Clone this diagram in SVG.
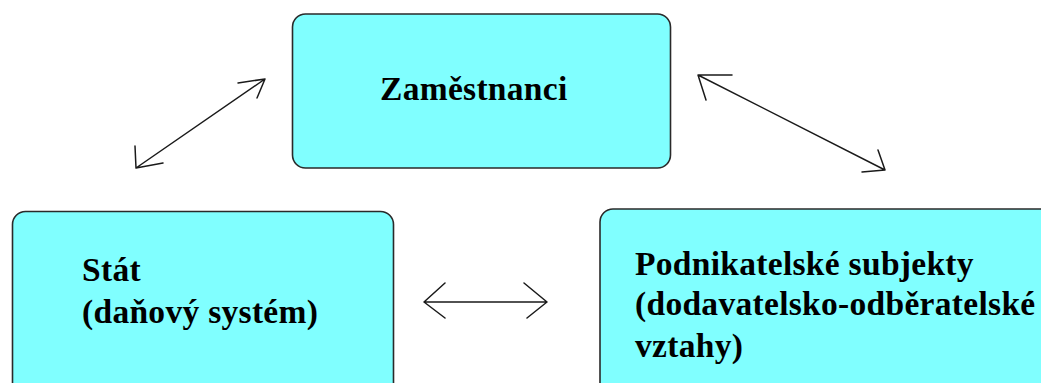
<svg xmlns="http://www.w3.org/2000/svg" width="1041" height="383" viewBox="0 0 1041 383">
  <style>
    .box { fill: #80ffff; stroke: #2a2a2a; stroke-width: 1.6; }
    .label { font-family: "Liberation Serif", "Times New Roman", serif; font-weight: bold; font-size: 33.5px; letter-spacing: 0.3px; fill: #000; }
    .link { fill: none; stroke: #1a1a1a; stroke-width: 1.5; stroke-linecap: round; stroke-linejoin: round; }
  </style>
  <rect width="1041" height="383" fill="#fff"/>

  <g id="zamestnanci">
    <rect class="box" x="292.5" y="14" width="378" height="154" rx="13"/>
    <text class="label" x="380" y="100">Zaměstnanci</text>
  </g>

  <g id="stat">
    <rect class="box" x="12.5" y="211.5" width="381" height="190" rx="13"/>
    <text class="label" x="82" y="281">Stát</text>
    <text class="label" x="82" y="323">(daňový systém)</text>
  </g>

  <g id="podnikatelske-subjekty">
    <rect class="box" x="600" y="209" width="470" height="192" rx="13"/>
    <text class="label" x="635" y="275">Podnikatelské subjekty</text>
    <text class="label" x="635" y="315">(dodavatelsko-odběratelské</text>
    <text class="label" x="635" y="357">vztahy)</text>
  </g>

  <g id="connectors">
    <!-- Stát <-> Zaměstnanci -->
    <path class="link" d="M136,168 L265,79 M135,146 L136,168 L163,163 M238,83 L265,79 L257,98"/>
    <!-- Zaměstnanci <-> Podnikatelské subjekty -->
    <path class="link" d="M698,75 L885,170 M732,75 L698,75 L706,100 M862,172 L885,170 L878,150"/>
    <!-- Stát <-> Podnikatelské subjekty -->
    <path class="link" d="M424,302 L547,302 M445,283 L424,302 L445,318 M524,283 L547,302 L527,318"/>
  </g>
</svg>
